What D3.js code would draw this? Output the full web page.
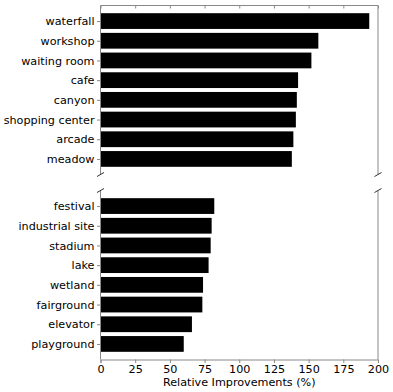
<!DOCTYPE html>
<meta charset="utf-8">
<style>
    body { margin: 0; background: #fff; }
    .tick text, .label { font: 11.2px "DejaVu Sans", sans-serif; fill: #000; }
    .spine { stroke: #888; stroke-width: 1; fill: none; }
</style>
<svg width="393" height="392"></svg>
<script src="https://d3js.org/d3.v7.min.js"></script>
<script>

    var topNames = ["waterfall", "workshop", "waiting room", "cafe", "canyon", "shopping center", "arcade", "meadow"];
    var topValues = [193.7, 157, 152, 142.4, 141.5, 140.8, 139, 137.9];
    var bottomNames = ["festival", "industrial site", "stadium", "lake", "wetland", "fairground", "elevator", "playground"];
    var bottomValues = [82, 80.1, 79.4, 77.9, 73.9, 73.4, 65.9, 60];
    var xTicks = [0, 25, 50, 75, 100, 125, 150, 175, 200];

    var svg = d3.select("svg"),
        left = 100.5, right = 378;

    var x = d3.scaleLinear().domain([0, 200]).range([left, right]);

    var panels = [
        {names: topNames, values: topValues, y0: 5.5, y1: 174.5},
        {names: bottomNames, values: bottomValues, y0: 190.5, y1: 359.5}
    ];

    panels.forEach(function (p, pi) {
        var n = p.names.length;
        // same extents as matplotlib: bars +-0.4 and 5% margins
        var pad = (n - 1 + 0.8) * 0.05;
        var y = d3.scaleLinear().domain([-0.4 - pad, n - 1 + 0.4 + pad]).range([p.y0, p.y1]);
        var g = svg.append("g");

        g.selectAll("rect").data(p.values).enter().append("rect")
            .attr("x", x(0))
            .attr("y", function (d, i) { return y(i - 0.4); })
            .attr("width", function (d) { return x(d) - x(0); })
            .attr("height", function (d, i) { return y(i + 0.4) - y(i - 0.4); })
            .attr("fill", "#000");

        var yAxis = d3.axisLeft(d3.scaleOrdinal().domain(p.names).range(p.names.map(function (d, i) { return y(i); })))
            .tickSize(3.5).tickPadding(2.5);
        var ya = g.append("g").attr("transform", "translate(" + left + ",0)").call(yAxis);
        ya.select(".domain").remove();
        ya.selectAll(".tick line").attr("stroke", "#888");

        // spines
        g.append("line").attr("class", "spine").attr("x1", left).attr("x2", left).attr("y1", p.y0).attr("y2", p.y1);
        g.append("line").attr("class", "spine").attr("x1", right).attr("x2", right).attr("y1", p.y0).attr("y2", p.y1);

        if (pi === 0) {
            g.append("line").attr("class", "spine").attr("x1", left).attr("x2", right).attr("y1", p.y0).attr("y2", p.y0);
            var ta = g.append("g").attr("transform", "translate(0," + p.y0 + ")")
                .call(d3.axisBottom(x).tickValues(xTicks).tickSize(3).tickFormat(""));
            ta.select(".domain").remove();
            ta.selectAll(".tick line").attr("stroke", "#888");
        } else {
            var xa = g.append("g").attr("transform", "translate(0," + p.y1 + ")")
                .call(d3.axisBottom(x).tickValues(xTicks).tickSize(3.5).tickPadding(2));
            xa.select(".domain").attr("stroke", "#888");
            xa.selectAll(".tick line").attr("stroke", "#888");
        }

        // break marks
        var by = pi === 0 ? p.y1 : p.y0;
        [left, right].forEach(function (bx) {
            g.append("line").attr("stroke", "#333").attr("stroke-width", 1)
                .attr("x1", bx - 3.5).attr("y1", by + 2).attr("x2", bx + 3.5).attr("y2", by - 2);
        });
    });

    svg.append("text").attr("class", "label")
        .attr("x", (left + right) / 2).attr("y", 386)
        .attr("text-anchor", "middle")
        .text("Relative Improvements (%)");

</script>
